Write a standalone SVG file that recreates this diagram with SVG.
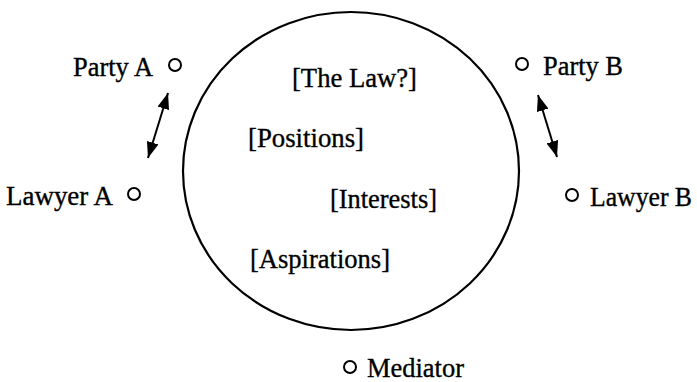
<svg xmlns="http://www.w3.org/2000/svg" width="697" height="382" viewBox="0 0 697 382">
<style>
text{font-family:"Liberation Serif","Times New Roman",serif;font-size:27px;fill:#000;stroke:#000;stroke-width:0.35}
.dot{fill:none;stroke:#000;stroke-width:2}
.conn{stroke:#000;stroke-width:2;fill:none}
</style>
<defs>
<marker id="ah" viewBox="0 0 16 12" refX="16" refY="6" markerWidth="16" markerHeight="12" markerUnits="userSpaceOnUse" orient="auto-start-reverse">
<path d="M0,0 L16,6 L0,12 Z" fill="#000"/>
</marker>
</defs>
<rect width="697" height="382" fill="#fff"/>
<g id="arena">
<ellipse cx="351" cy="171" rx="168" ry="159" fill="none" stroke="#000" stroke-width="2.2"/>
<text x="292" y="87" textLength="125" lengthAdjust="spacingAndGlyphs">[The Law?]</text>
<text x="248" y="147" textLength="116" lengthAdjust="spacingAndGlyphs">[Positions]</text>
<text x="330" y="208" textLength="107" lengthAdjust="spacingAndGlyphs">[Interests]</text>
<text x="250" y="268" textLength="140" lengthAdjust="spacingAndGlyphs">[Aspirations]</text>
</g>
<g id="partyA">
<circle class="dot" cx="175" cy="65" r="6"/>
<text x="73" y="76" textLength="80" lengthAdjust="spacingAndGlyphs">Party A</text>
</g>
<g id="lawyerA">
<circle class="dot" cx="134" cy="194" r="6"/>
<text x="6" y="205" textLength="107" lengthAdjust="spacingAndGlyphs">Lawyer A</text>
</g>
<g id="partyB">
<circle class="dot" cx="522" cy="64" r="6"/>
<text x="543" y="75" textLength="80" lengthAdjust="spacingAndGlyphs">Party B</text>
</g>
<g id="lawyerB">
<circle class="dot" cx="572" cy="195" r="6"/>
<text x="590" y="206" textLength="102" lengthAdjust="spacingAndGlyphs">Lawyer B</text>
</g>
<g id="mediator">
<circle class="dot" cx="350" cy="367" r="6"/>
<text x="367" y="377" textLength="97" lengthAdjust="spacingAndGlyphs">Mediator</text>
</g>
<g id="connectors">
<line class="conn" x1="168" y1="93" x2="148" y2="158" marker-start="url(#ah)" marker-end="url(#ah)"/>
<line class="conn" x1="538" y1="95" x2="557" y2="157" marker-start="url(#ah)" marker-end="url(#ah)"/>
</g>
</svg>
